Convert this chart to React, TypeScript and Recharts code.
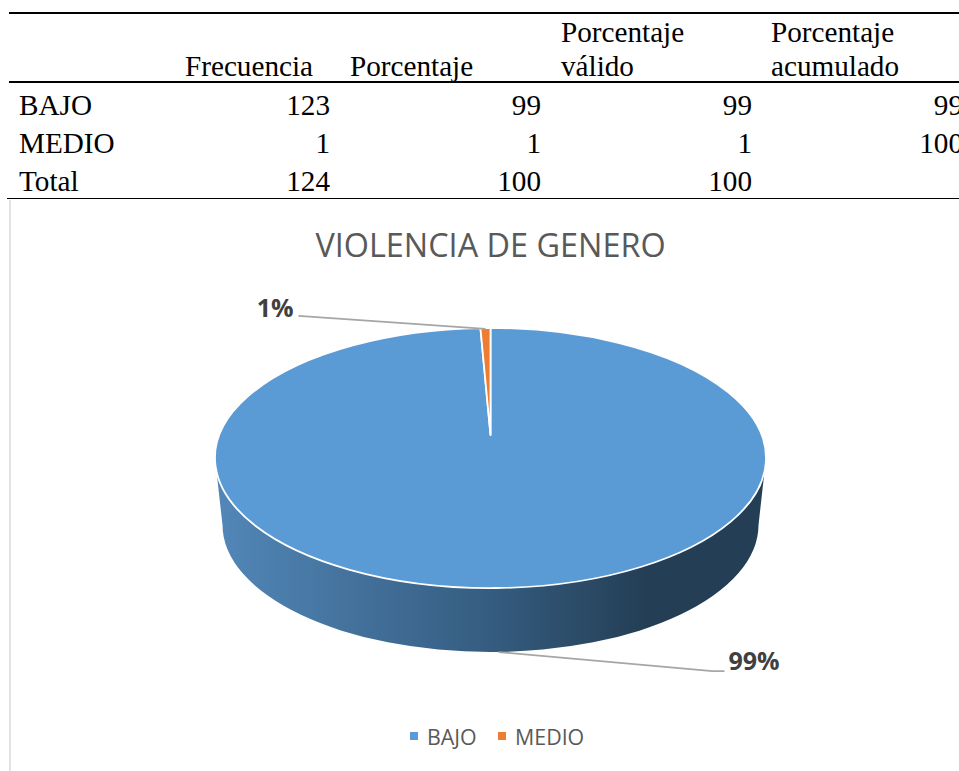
import { Legend, Pie, PieChart } from "recharts";

const categorias = ["BAJO", "MEDIO"];
const frecuencia = [123, 1];
const colores = ["#5B9BD5", "#ED7D31"];

const filasTabla = ["BAJO", "MEDIO", "Total"];
const colFrecuencia = ["123", "1", "124"];
const colPorcentaje = ["99", "1", "100"];
const colValido = ["99", "1", "100"];
const colAcumulado = ["99", "100", ""];

const titulo = "VIOLENCIA DE GENERO";

const pieData = categorias.map((name, i) => ({ name, value: frecuencia[i], fill: colores[i] }));

const SANS = "'Open Sans', sans-serif";
const SERIF = "'Liberation Serif', serif";

// how the flat pie is tilted into the 3D look
const TILT = 0.472;
const APEX_LIFT = 23;
const WALL_DROP = 67;
const WALL_SHRINK = 7.5;
const PERSPECTIVE = 8; // far side of the pie looks narrower

const rad = (a: number) => (a * Math.PI) / 180;
const warp = (a: number) => a - PERSPECTIVE * Math.sin(rad(2 * (a - 90)));

const Pie3D = (props: any) => {
    const { cx, cy, outerRadius: r, startAngle, endAngle, fill } = props;
    const ry = r * TILT;
    const pt = (a: number) => [cx + r * Math.cos(rad(warp(a))), cy - ry * Math.sin(rad(warp(a)))];
    const [sx, sy] = pt(startAngle);
    const [ex, ey] = pt(endAngle);
    const large = Math.abs(startAngle - endAngle) > 180 ? 1 : 0;
    const top = `M${cx},${cy - APEX_LIFT} L${sx},${sy} A${r},${ry} 0 ${large} 1 ${ex},${ey} Z`;

    // front wall only where the sector faces the viewer (-180..0)
    const hi = Math.min(Math.max(startAngle, endAngle), 0);
    const lo = Math.max(Math.min(startAngle, endAngle), -180);
    let wall = null;
    if (hi > lo) {
        const r2 = r - WALL_SHRINK;
        const ry2 = ry - 3;
        const cy2 = cy + WALL_DROP;
        const [ax, ay] = pt(lo);
        const [bx, by] = pt(hi);
        const bax = cx + r2 * Math.cos(rad(lo));
        const bay = cy2 - ry2 * Math.sin(rad(lo));
        const bbx = cx + r2 * Math.cos(rad(hi));
        const bby = cy2 - ry2 * Math.sin(rad(hi));
        wall = `M${ax},${ay} L${bax},${bay} A${r2},${ry2} 0 0 0 ${bbx},${bby} L${bx},${by} Z`;
    }
    return (
        <g>
            {wall && (
                <>
                    <defs>
                        <linearGradient id="pared" gradientUnits="userSpaceOnUse" x1={cx - r} x2={cx + r} y1={0} y2={0}>
                            <stop offset="0%" stopColor="#5287B8" />
                            <stop offset="50%" stopColor="#355C80" />
                            <stop offset="78%" stopColor="#243F55" />
                            <stop offset="100%" stopColor="#243F55" />
                        </linearGradient>
                    </defs>
                    <path d={wall} fill="url(#pared)" />
                </>
            )}
            <path d={top} fill={fill} stroke="#fff" strokeWidth={1.8} strokeLinejoin="round" />
        </g>
    );
};

const Etiqueta = (props: any) => {
    const { cx, cy, outerRadius: r, midAngle, percent } = props;
    const texto = `${Math.round(percent * 100)}%`;
    const frente = Math.sin(rad(midAngle)) < 0;
    const ax = cx + r * Math.cos(rad(warp(midAngle)));
    const ay = frente ? cy + WALL_DROP + (r * TILT - 3) : cy - r * TILT;
    const puntos = frente
        ? [[ax + 3, ay], [ax + 217, ay + 19], [ax + 229, ay + 19]]
        : [[ax, ay + 1], [ax - 187, ay - 12]];
    const fin = puntos[puntos.length - 1];
    return (
        <g>
            <polyline points={puntos.map((p) => p.join(",")).join(" ")} fill="none" stroke="#A6A6A6" strokeWidth={1.7} />
            <text
                x={fin[0] + (frente ? 4 : -5)}
                y={fin[1] + (frente ? -8 : -6)}
                textAnchor={frente ? "start" : "end"}
                dominantBaseline="middle"
                fontFamily={SANS}
                fontWeight={700}
                fontSize={25}
                fill="#404040"
            >
                {texto}
            </text>
        </g>
    );
};

const Leyenda = ({ payload }: any) => (
    <div style={{ position: "relative", height: 30, fontFamily: SANS, fontSize: 21.4, color: "#595959" }}>
        {(payload || []).map((item: any, i: number) => (
            <div key={item.value} style={{ position: "absolute", left: i * 88, top: 0, display: "flex", alignItems: "center", height: 30, whiteSpace: "nowrap" }}>
                <span style={{ width: 8, height: 8, background: item.color, marginRight: 9 }} />
                {item.value}
            </div>
        ))}
    </div>
);

const celda = (texto: string, left: number, top: number, derecha?: boolean) => (
    <span
        key={`${left}-${top}`}
        style={{
            position: "absolute",
            top,
            lineHeight: "34px",
            whiteSpace: "nowrap",
            ...(derecha ? { right: 959 - left } : { left }),
        }}
    >
        {texto}
    </span>
);

const regla = (top: number, grosor: number, left = 9) => (
    <div style={{ position: "absolute", left, right: 0, top, height: grosor, background: "#000" }} />
);

export default function App() {
    const topFilas = [88, 126, 164];
    const columnas: [string[], number][] = [
        [colFrecuencia, 330],
        [colPorcentaje, 541],
        [colValido, 752],
        [colAcumulado, 963],
    ];
    return (
        <div style={{ position: "absolute", left: 0, top: 0, width: 959, height: 771, overflow: "hidden", background: "#fff" }}>
            <div style={{ position: "absolute", left: 9, top: 200, width: 2, height: 571, background: "#E3E3E3" }} />
            <div style={{ position: "absolute", left: 0, top: 0, width: 959, height: 771 }}>
                <PieChart width={959} height={771} margin={{ top: 0, right: 0, bottom: 0, left: 0 }}>
                    <Pie
                        data={pieData}
                        dataKey="value"
                        nameKey="name"
                        cx={490.5}
                        cy={458}
                        outerRadius={275.5}
                        startAngle={90}
                        endAngle={-270}
                        stroke="none"
                        shape={Pie3D}
                        label={Etiqueta}
                        labelLine={false}
                        isAnimationActive={false}
                    />
                    <Legend
                        content={<Leyenda />}
                        layout="horizontal"
                        align="left"
                        verticalAlign="bottom"
                        wrapperStyle={{ position: "absolute", left: 410, top: 721, bottom: "auto", width: 300 }}
                    />
                </PieChart>
            </div>
            <div style={{ position: "absolute", left: 0, width: 959, top: 222, textAlign: "center", paddingLeft: 22, boxSizing: "border-box", fontFamily: SANS, fontSize: 32.4, lineHeight: "44px", color: "#595959" }}>
                {titulo}
            </div>
            <div style={{ position: "absolute", left: 0, top: 0, width: 959, height: 200, fontFamily: SERIF, fontSize: 29.2, color: "#000" }}>
                {regla(12, 2)}
                {regla(81, 2)}
                {regla(198, 1, 7)}
                {celda("Frecuencia", 185, 49)}
                {celda("Porcentaje", 350, 49)}
                {celda("Porcentaje", 561, 15)}
                {celda("válido", 561, 49)}
                {celda("Porcentaje", 771, 15)}
                {celda("acumulado", 771, 49)}
                {filasTabla.map((f, i) => celda(f, 19, topFilas[i]))}
                {columnas.map(([col, der]) => col.map((v, i) => celda(v, der, topFilas[i], true)))}
            </div>
        </div>
    );
}
